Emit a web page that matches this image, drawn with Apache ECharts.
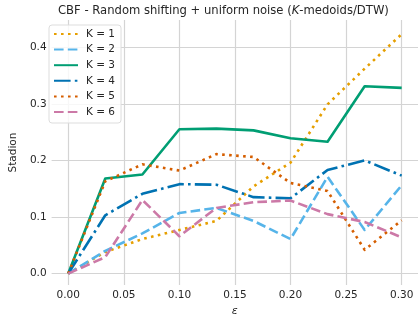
<!DOCTYPE html>
<html>
<head>
<meta charset="utf-8">
<script src="https://cdn.jsdelivr.net/npm/echarts@6/dist/echarts.min.js"></script>
<style>
  html, body { margin: 0; padding: 0; background: #fff; }
  #chart { width: 418px; height: 322px; }
</style>
</head>
<body>
<div id="chart"></div>
<script>
// epsilon values on the x axis
const eps = [0, 0.0333, 0.0667, 0.1, 0.1333, 0.1667, 0.2, 0.2333, 0.2667, 0.3];

const k1 = [0, 0.038, 0.061, 0.077, 0.093, 0.154, 0.196, 0.299, 0.362, 0.423];
const k2 = [0, 0.040, 0.071, 0.107, 0.116, 0.093, 0.061, 0.171, 0.077, 0.156];
const k3 = [0, 0.168, 0.175, 0.255, 0.256, 0.253, 0.239, 0.233, 0.331, 0.328];
const k4 = [0, 0.103, 0.141, 0.158, 0.157, 0.135, 0.133, 0.183, 0.200, 0.173];
const k5 = [0, 0.163, 0.193, 0.182, 0.211, 0.206, 0.160, 0.146, 0.042, 0.094];
const k6 = [0, 0.029, 0.130, 0.066, 0.116, 0.126, 0.129, 0.105, 0.091, 0.064];

const seriesNames = ['K = 1', 'K = 2', 'K = 3', 'K = 4', 'K = 5', 'K = 6'];
const xTicks = [0, 0.05, 0.1, 0.15, 0.2, 0.25, 0.3];
const yTicks = [0, 0.1, 0.2, 0.3, 0.4];

const lw = 2.6;
const styles = [
    { color: '#E69F00', type: [2.6, 4.4] },
    { color: '#56B4E9', type: [9.6, 4.2] },
    { color: '#009E73', type: 'solid' },
    { color: '#0072B2', type: [16.6, 4.2, 2.6, 4.2] },
    { color: '#D55E00', type: [2.6, 4.4] },
    { color: '#CC79A7', type: [9.6, 4.2] }
];
const values = [k1, k2, k3, k4, k5, k6];

let myChart = echarts.init(document.getElementById('chart'));

let series = values.map(function (vals, i) {
    return {
        name: seriesNames[i],
        type: 'line',
        symbol: 'none',
        color: styles[i].color,
        lineStyle: {
            color: styles[i].color,
            width: lw,
            type: styles[i].type,
            cap: 'butt',
            join: 'round'
        },
        data: vals.map(function (v, j) { return [eps[j], v]; })
    };
});

let option = {
    backgroundColor: '#ffffff',
    animation: false,
    textStyle: { fontFamily: 'DejaVu Sans' },
    title: {
        text: 'CBF - Random shifting + uniform noise ({k|K}-medoids/DTW)',
        left: 58,
        top: 5,
        padding: 0,
        textStyle: {
            fontSize: 11.6,
            fontWeight: 'normal',
            color: '#262626',
            fontFamily: 'DejaVu Sans',
            rich: {
                k: { fontSize: 11.6, fontStyle: 'italic', color: '#262626', fontFamily: 'DejaVu Sans' }
            }
        }
    },
    legend: {
        orient: 'vertical',
        left: 49,
        top: 25,
        padding: [3, 6, 5, 4],
        itemGap: 3.6,
        itemWidth: 24,
        itemHeight: 12,
        backgroundColor: 'rgba(255,255,255,0.8)',
        borderColor: '#dddddd',
        borderWidth: 1,
        borderRadius: 3,
        itemStyle: { opacity: 0 },
        textStyle: {
            fontSize: 10.5,
            color: '#262626',
            lineHeight: 12,
            padding: [0, 0, 0, 3],
            fontFamily: 'DejaVu Sans'
        },
        data: seriesNames
    },
    grid: {
        left: 44,
        right: 0,
        top: 20,
        bottom: 28.5,
        containLabel: false
    },
    xAxis: {
        type: 'value',
        min: -0.015,
        max: 0.3147,
        name: 'ε',
        nameLocation: 'middle',
        nameGap: 21,
        nameTextStyle: { fontSize: 11, fontStyle: 'italic', color: '#262626' },
        axisLine: { show: false },
        axisTick: { show: false, customValues: xTicks },
        axisLabel: {
            customValues: xTicks,
            margin: 5,
            fontSize: 10.5,
            color: '#262626',
            formatter: function (v) { return v.toFixed(2); }
        },
        splitLine: { show: true, lineStyle: { color: '#d4d4d4', width: 1.2 } }
    },
    yAxis: {
        type: 'value',
        min: -0.0202,
        max: 0.448,
        name: 'Stadion',
        nameLocation: 'middle',
        nameGap: 26,
        nameTextStyle: { fontSize: 10.5, color: '#262626' },
        axisLine: { show: false },
        axisTick: { show: false, customValues: yTicks },
        axisLabel: {
            customValues: yTicks,
            margin: 5,
            fontSize: 10.5,
            color: '#262626',
            formatter: function (v) { return v.toFixed(1); }
        },
        splitLine: { show: true, lineStyle: { color: '#d4d4d4', width: 1.2 } }
    },
    series: series
};
myChart.setOption(option);
</script>
</body>
</html>
